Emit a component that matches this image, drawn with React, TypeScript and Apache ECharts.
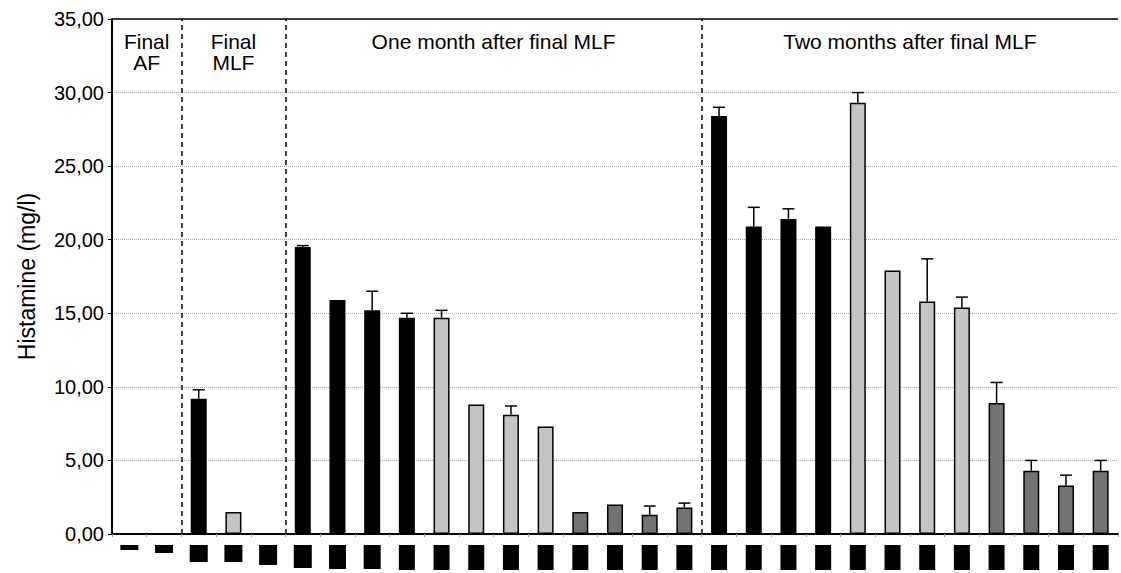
import React, { useEffect, useRef } from "react";
import * as echarts from "echarts";

const categories = [
  "c1", "c2", "c3", "c4", "c5", "c6", "c7", "c8", "c9", "c10",
  "c11", "c12", "c13", "c14", "c15", "c16", "c17", "c18", "c19", "c20",
  "c21", "c22", "c23", "c24", "c25", "c26", "c27", "c28", "c29",
];
const values = [
  0, 0, 9.2, 1.5, 0,
  19.5, 15.9, 15.2, 14.7, 14.7, 8.8, 8.1, 7.3, 1.5, 2.0, 1.3, 1.8,
  28.4, 20.9, 21.4, 20.9, 29.3, 17.9, 15.8, 15.4, 8.9, 4.3, 3.3, 4.3,
];
const errors = [
  0, 0, 0.6, 0, 0,
  0.1, 0, 1.3, 0.3, 0.5, 0, 0.6, 0, 0, 0, 0.6, 0.3,
  0.6, 1.3, 0.7, 0, 0.7, 0, 2.9, 0.7, 1.4, 0.7, 0.7, 0.7,
];
const barKinds = [
  "black", "black", "black", "light", "black",
  "black", "black", "black", "black", "light", "light", "light", "light", "dark", "dark", "dark", "dark",
  "black", "black", "black", "black", "light", "light", "light", "light", "dark", "dark", "dark", "dark",
];
const markerHeights = [
  5, 8, 17, 17, 20,
  23, 24, 24, 25, 25, 25, 25, 25, 25, 25, 25, 25,
  25, 25, 25, 25, 25, 25, 25, 25, 25, 25, 25, 25,
];
const markerWidths = [
  18, 18, 18, 18, 18,
  18, 17, 17, 16, 16, 16, 16, 16, 16, 16, 16, 16,
  16, 16, 16, 16, 16, 16, 16, 16, 16, 16, 16, 16,
];
const regionLabels = ["Final\nAF", "Final\nMLF", "One month after final MLF", "Two months after final MLF"];
const regionBounds = [0, 2, 5, 17, 29];
const separators = [2, 5, 17];
const yTicks = { min: 0, max: 35, interval: 5 };

const kindColor: Record<string, string> = {
  black: "#000000",
  light: "#c4c4c4",
  dark: "#737373",
};

const FONT = "Liberation Sans, Arial, sans-serif";

export default function App() {
  const ref = useRef<HTMLDivElement>(null);
  useEffect(() => {
    if (!ref.current) return;
    const chart = echarts.init(ref.current, undefined, { renderer: "svg" });
    const rich: Record<string, any> = {};
    markerHeights.forEach((h, i) => {
      rich["m" + i] = {
        width: markerWidths[i],
        height: h,
        lineHeight: h,
        backgroundColor: "#000",
        fontSize: 1,
        color: "transparent",
      };
    });
    const barData = values.map((v, i) => ({
      value: v,
      itemStyle: {
        color: kindColor[barKinds[i]],
        borderColor: "#000",
        borderWidth: barKinds[i] === "black" ? 0 : 1.5,
      },
    }));
    const errData = values.map((v, i) => [i, v, errors[i]]);
    const areas = regionLabels.map((name, i) => [
      { name, xAxis: regionBounds[i] },
      { xAxis: regionBounds[i + 1] },
    ]);
    const sepLines: any[] = separators.map((x) => ({
      xAxis: x,
      lineStyle: { type: [5, 4], color: "#000", width: 1.5 },
    }));
    sepLines.push({ yAxis: yTicks.max, lineStyle: { type: "solid", color: "#000", width: 1.5 } });
    const option: any = {
      animation: false,
      textStyle: { fontFamily: FONT },
      grid: { left: 112, right: 3, top: 19, bottom: 39 },
      xAxis: [
        {
          type: "category",
          data: categories,
          axisLine: { show: true, lineStyle: { color: "#000", width: 2 } },
          axisTick: { show: true, length: 3, lineStyle: { color: "#999" } },
          axisLabel: {
            interval: 0,
            margin: 11,
            formatter: (_v: string, idx: number) => "{m" + idx + "| }",
            rich,
          },
          splitLine: { show: false },
        },
        {
          type: "value",
          min: 0,
          max: categories.length,
          show: false,
        },
      ],
      yAxis: {
        type: "value",
        min: yTicks.min,
        max: yTicks.max,
        interval: yTicks.interval,
        name: "Histamine (mg/l)",
        nameLocation: "middle",
        nameGap: 74,
        nameTextStyle: { fontSize: 23, color: "#000", fontFamily: FONT },
        axisLine: { show: true, lineStyle: { color: "#000", width: 2 } },
        axisTick: { show: true, length: 4, lineStyle: { color: "#000" } },
        axisLabel: {
          fontSize: 20,
          color: "#000",
          margin: 8,
          fontFamily: FONT,
          formatter: (v: number) => v.toFixed(2).replace(".", ","),
        },
        splitLine: { show: true, lineStyle: { color: "#aaa", type: "dotted", width: 1 } },
      },
      series: [
        {
          type: "bar",
          data: barData,
          barWidth: 16,
          xAxisIndex: 0,
          z: 3,
        },
        {
          type: "custom",
          xAxisIndex: 0,
          z: 4,
          data: errData,
          renderItem: (params: any, api: any) => {
            const err = api.value(2);
            if (!err) return { type: "group", children: [] };
            const p0 = api.coord([api.value(0), api.value(1)]);
            const p1 = api.coord([api.value(0), api.value(1) + err]);
            const style = { stroke: "#000", lineWidth: 1.5 };
            return {
              type: "group",
              children: [
                { type: "line", shape: { x1: p0[0], y1: p0[1], x2: p1[0], y2: p1[1] }, style },
                { type: "line", shape: { x1: p1[0] - 6, y1: p1[1], x2: p1[0] + 6, y2: p1[1] }, style },
              ],
            };
          },
        },
        {
          type: "line",
          xAxisIndex: 1,
          data: [[0, 0]],
          symbol: "none",
          lineStyle: { opacity: 0 },
          z: 5,
          markLine: {
            silent: true,
            symbol: "none",
            label: { show: false },
            data: sepLines,
          },
          markArea: {
            silent: true,
            itemStyle: { color: "transparent" },
            label: {
              show: true,
              position: "insideTop",
              distance: 12,
              fontSize: 21,
              lineHeight: 21,
              color: "#000",
              fontFamily: FONT,
            },
            data: areas,
          },
        },
      ],
    };
    chart.setOption(option);
    return () => chart.dispose();
  }, []);
  return (
    <div
      ref={ref}
      style={{ position: "fixed", left: 0, top: 0, width: 1121, height: 573, background: "#fff" }}
    />
  );
}
